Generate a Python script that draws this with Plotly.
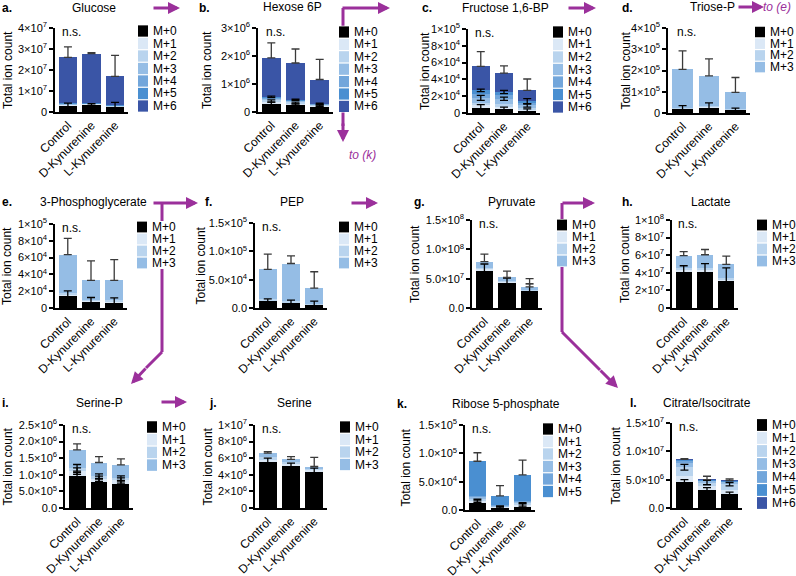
import numpy as np
import plotly.graph_objects as go

W, H = 796, 576
FONT = "Liberation Sans, Arial, Helvetica, sans-serif"
PURPLE = "#9b309b"

groups = ["Control", "D-Kynurenine", "L-Kynurenine"]
iso_names = ["M+0", "M+1", "M+2", "M+3", "M+4", "M+5", "M+6"]
iso_colors = ["#000000", "#dbe8f6", "#b9d4ee", "#95bde5", "#72a6db", "#4a8fd1", "#3a55a6"]

# ---------------- data (segment means per isotopologue, SD) ----------------
glucose_mean = [[3.3e6, 3.6e6, 2.6e6], [0.3e6, 0.3e6, 0.2e6], [0.15e6, 0.15e6, 0.1e6],
                [0.1e6, 0.1e6, 0.1e6], [0.1e6, 0.1e6, 0.1e6], [0.15e6, 0.15e6, 0.1e6],
                [2.19e7, 2.34e7, 1.38e7]]
glucose_sd = [[0.9e6, 0.4e6, 2.0e6], None, None, None, None, None, [5.0e6, 0.5e6, 1.0e7]]
glucose_tickvals = [0, 1e7, 2e7, 3e7, 4e7]
glucose_ticktext = ["0", "1×10<sup>7</sup>", "2×10<sup>7</sup>", "3×10<sup>7</sup>", "4×10<sup>7</sup>"]

hexose_mean = [[3.0e5, 2.4e5, 1.8e5], [0.9e5, 0.8e5, 0.5e5], [0.6e5, 0.5e5, 0.3e5],
               [0.4e5, 0.3e5, 0.2e5], [0.2e5, 0.2e5, 0.1e5], [0.3e5, 0.2e5, 0.1e5],
               [1.39e6, 1.31e6, 0.86e6]]
hexose_sd = [[0.5e5, 0.5e5, 0.4e5], [0.4e5, 0.3e5, 0.3e5], None, None, None, [0.3e5, 0.2e5, 0.2e5],
             [5.4e5, 5.0e5, 7.2e5]]
hexose_tickvals = [0, 1e6, 2e6, 3e6]
hexose_ticktext = ["0", "1×10<sup>6</sup>", "2×10<sup>6</sup>", "3×10<sup>6</sup>"]

fbp_mean = [[7e3, 5e3, 3e3], [2e3, 2e3, 1e3], [3e3, 4e3, 2e3], [6e3, 6e3, 3e3],
            [5e3, 5e3, 3e3], [4e3, 3e3, 2e3], [2.85e4, 2.25e4, 1.3e4]]
fbp_sd = [[3e3, 2e3, 2e3], None, None, [3e3, 2e3, 2e3], None, [1.5e3, 2e3, 3e3],
          [1.75e4, 8.5e3, 1.35e4]]
fbp_tickvals = [0, 2e4, 4e4, 6e4, 8e4, 1e5]
fbp_ticktext = ["0", "2×10<sup>4</sup>", "4×10<sup>4</sup>", "6×10<sup>4</sup>", "8×10<sup>4</sup>", "1×10<sup>5</sup>"]

triose_mean = [[2.2e4, 2.8e4, 1.5e4], [1e3, 1e3, 1e3], [2e3, 2e3, 1e3], [1.8e5, 1.44e5, 0.8e5]]
triose_sd = [[1.3e4, 2.0e4, 0.8e4], None, None, [8.7e4, 8.0e4, 7.0e4]]
triose_tickvals = [0, 1e5, 2e5, 3e5, 4e5]
triose_ticktext = ["0", "1×10<sup>5</sup>", "2×10<sup>5</sup>", "3×10<sup>5</sup>", "4×10<sup>5</sup>"]

pg_mean = [[1.45e4, 7.5e3, 7e3], [1e3, 1e3, 1e3], [2e3, 1.5e3, 1.5e3], [4.6e4, 2.3e4, 2.35e4]]
pg_sd = [[6e3, 5e3, 5e3], None, None, [1.95e4, 2.3e4, 2.45e4]]
pg_tickvals = [0, 2e4, 4e4, 6e4, 8e4, 1e5]
pg_ticktext = ["0", "2×10<sup>4</sup>", "4×10<sup>4</sup>", "6×10<sup>4</sup>", "8×10<sup>4</sup>", "1×10<sup>5</sup>"]

pep_mean = [[1.3e4, 9e3, 6e3], [1e3, 1e3, 5e2], [2e3, 2e3, 1e3], [5.2e4, 6.65e4, 2.75e4]]
pep_sd = [[3e3, 5e3, 6e3], None, None, [2.7e4, 1.35e4, 2.9e4]]
pep_tickvals = [0, 5e4, 1e5, 1.5e5]
pep_ticktext = ["0.0", "5.0×10<sup>4</sup>", "1.0×10<sup>5</sup>", "1.5×10<sup>5</sup>"]

pyr_mean = [[6.4e7, 4.3e7, 2.9e7], [3e6, 2e6, 1.5e6], [2e6, 1.5e6, 1e6], [1.0e7, 0.55e7, 0.45e7]]
pyr_sd = [[1.1e7, 0.8e7, 1.2e7], None, None, [1.3e7, 1.1e7, 1.4e7]]
pyr_tickvals = [0, 5e7, 1e8, 1.5e8]
pyr_ticktext = ["0.0", "5.0×10<sup>7</sup>", "1.0×10<sup>8</sup>", "1.5×10<sup>8</sup>"]

lac_mean = [[4.2e7, 4.15e7, 3.1e7], [2e6, 2e6, 1.5e6], [2e6, 2e6, 2e6], [1.35e7, 1.5e7, 1.5e7]]
lac_sd = [[6e6, 9e6, 1.45e7], None, None, [4.5e6, 6e6, 9.5e6]]
lac_tickvals = [0, 2e7, 4e7, 6e7, 8e7, 1e8]
lac_ticktext = ["0", "2×10<sup>7</sup>", "4×10<sup>7</sup>", "6×10<sup>7</sup>", "8×10<sup>7</sup>", "1×10<sup>8</sup>"]

serp_mean = [[9.7e5, 7.8e5, 7.3e5], [1.4e5, 1.0e5, 1.0e5], [1.0e5, 0.8e5, 0.7e5], [5.4e5, 4.1e5, 4.0e5]]
serp_sd = [[1.0e5, 0.9e5, 0.8e5], [1.0e5, 0.8e5, 0.8e5], [1.0e5, 0.7e5, 0.7e5], [1.8e5, 1.8e5, 1.8e5]]
serp_tickvals = [0, 5e5, 1e6, 1.5e6, 2e6, 2.5e6]
serp_ticktext = ["0.0", "5.0×10<sup>5</sup>", "1.0×10<sup>6</sup>", "1.5×10<sup>6</sup>", "2.0×10<sup>6</sup>", "2.5×10<sup>6</sup>"]

ser_mean = [[5.6e6, 5.1e6, 4.4e6], [3e5, 2.5e5, 2e5], [2e5, 1.5e5, 1.5e5], [5e5, 3.5e5, 2.5e5]]
ser_sd = [[4e5, 3e5, 4e5], None, None, [2e5, 3.5e5, 1.1e6]]
ser_tickvals = [0, 2e6, 4e6, 6e6, 8e6, 1e7]
ser_ticktext = ["0", "2×10<sup>6</sup>", "4×10<sup>6</sup>", "6×10<sup>6</sup>", "8×10<sup>6</sup>", "1×10<sup>7</sup>"]

r5p_mean = [[1.2e4, 5e3, 7e3], [4e3, 1e3, 3e3], [4e3, 1e3, 3e3], [3e3, 1e3, 2e3],
            [2e3, 1e3, 1e3], [6.1e4, 1.6e4, 4.6e4]]
r5p_sd = [[4e3, 2e3, 4e3], [3e3, 1e3, 3e3], None, None, None, [1.5e4, 1.8e4, 2.6e4]]
r5p_tickvals = [0, 5e4, 1e5, 1.5e5]
r5p_ticktext = ["0.0", "5.0×10<sup>4</sup>", "1.0×10<sup>5</sup>", "1.5×10<sup>5</sup>"]

cit_mean = [[4.6e6, 3.2e6, 2.5e6], [1.0e6, 0.6e6, 0.7e6], [1.6e6, 0.7e6, 1.0e6], [0.8e6, 0.3e6, 0.4e6],
            [0.4e6, 0.1e6, 0.15e6], [0.15e6, 0.05e6, 0.05e6], [0.05e6, 0.05e6, 0.05e6]]
cit_sd = [[4e5, 4e5, 3e5], None, [5e5, 4e5, 3e5], None, None, None, [1e5, 6e5, 3e5]]
cit_tickvals = [0, 5e6, 1e7, 1.5e7]
cit_ticktext = ["0.0", "5.0×10<sup>6</sup>", "1.0×10<sup>7</sup>", "1.5×10<sup>7</sup>"]

panels = [
    ("a", "Glucose", glucose_mean, glucose_sd, glucose_tickvals, glucose_ticktext),
    ("b", "Hexose 6P", hexose_mean, hexose_sd, hexose_tickvals, hexose_ticktext),
    ("c", "Fructose 1,6-BP", fbp_mean, fbp_sd, fbp_tickvals, fbp_ticktext),
    ("d", "Triose-P", triose_mean, triose_sd, triose_tickvals, triose_ticktext),
    ("e", "3-Phosphoglycerate", pg_mean, pg_sd, pg_tickvals, pg_ticktext),
    ("f", "PEP", pep_mean, pep_sd, pep_tickvals, pep_ticktext),
    ("g", "Pyruvate", pyr_mean, pyr_sd, pyr_tickvals, pyr_ticktext),
    ("h", "Lactate", lac_mean, lac_sd, lac_tickvals, lac_ticktext),
    ("i", "Serine-P", serp_mean, serp_sd, serp_tickvals, serp_ticktext),
    ("j", "Serine", ser_mean, ser_sd, ser_tickvals, ser_ticktext),
    ("k", "Ribose 5-phosphate", r5p_mean, r5p_sd, r5p_tickvals, r5p_ticktext),
    ("l", "Citrate/Isocitrate", cit_mean, cit_sd, cit_tickvals, cit_ticktext),
]

# ---------------- layout (pixel positions) ----------------
LAYOUT = {
    "a": dict(xd=(55, 128), yd=(28, 112), letter=(0, 8), title=(94, 8), ylab=8, leg=(138, 31, 12.5)),
    "b": dict(xd=(258, 333), yd=(28, 112), letter=(197, 8), title=(292, 7), ylab=207, leg=(339, 32, 12.4)),
    "c": dict(xd=(468, 540), yd=(29, 113), letter=(420, 8), title=(505, 8), ylab=425, leg=(553, 32, 12.5)),
    "d": dict(xd=(668, 750), yd=(28, 113), letter=(620, 8), title=(712, 7), ylab=625, leg=(755, 32, 11.7)),
    "e": dict(xd=(55, 127), yd=(224, 308), letter=(0, 202), title=(93, 202), ylab=7, leg=(137, 227, 12)),
    "f": dict(xd=(255, 327), yd=(223, 308), letter=(203, 202), title=(292, 202), ylab=200, leg=(339, 227, 12)),
    "g": dict(xd=(472, 542), yd=(220, 308), letter=(412, 202), title=(512, 202), ylab=415, leg=(557, 225, 12)),
    "h": dict(xd=(672, 738), yd=(220, 308), letter=(620, 202), title=(711, 202), ylab=625, leg=(757, 225, 12)),
    "i": dict(xd=(65, 133), yd=(425, 508), letter=(0, 403), title=(100, 403), ylab=7, leg=(147, 427, 12.7)),
    "j": dict(xd=(255, 327), yd=(425, 508), letter=(207, 403), title=(294, 403), ylab=207, leg=(340, 427, 12.5)),
    "k": dict(xd=(465, 535), yd=(425, 510), letter=(395, 404), title=(506, 404), ylab=405, leg=(543, 429, 12.5)),
    "l": dict(xd=(672, 742), yd=(423, 508), letter=(628, 403), title=(707, 403), ylab=615, leg=(757, 425, 13)),
}


def px(x):
    return x / W


def py(y):
    return 1 - y / H


fig = go.Figure()
annotations = []
shapes = []
layout_axes = {}

for idx, (key, title, means, sds, tickvals, ticktext) in enumerate(panels):
    n = idx + 1
    xa = "x" if n == 1 else f"x{n}"
    ya = "y" if n == 1 else f"y{n}"
    L = LAYOUT[key]
    nseg = len(means)
    for k in range(nseg):
        fig.add_trace(go.Bar(x=groups, y=means[k], marker=dict(color=iso_colors[k], line=dict(width=0)),
                             xaxis=xa, yaxis=ya, showlegend=False, hoverinfo="skip"))
    cum = np.cumsum(np.array(means), axis=0)
    for k in range(nseg):
        if sds[k] is None:
            continue
        top = (k == nseg - 1)
        fig.add_trace(go.Scatter(
            x=groups, y=cum[k], mode="markers", marker=dict(size=1, opacity=0),
            error_y=dict(type="data", array=sds[k], arrayminus=[0, 0, 0] if top else sds[k],
                         symmetric=False, color="#3a3a3a" if top else "black", thickness=1.3, width=4),
            xaxis=xa, yaxis=ya, showlegend=False, hoverinfo="skip"))

    xkey = "xaxis" if n == 1 else f"xaxis{n}"
    ykey = "yaxis" if n == 1 else f"yaxis{n}"
    layout_axes[xkey] = dict(domain=[px(L["xd"][0]), px(L["xd"][1])], anchor=ya, range=[-0.55, 2.55],
                             showline=True, linecolor="black", linewidth=1.5, ticks="", tickangle=-45,
                             tickfont=dict(size=12, color="black", family=FONT), showgrid=False,
                             zeroline=False, automargin=False, fixedrange=True)
    layout_axes[ykey] = dict(domain=[py(L["yd"][1]), py(L["yd"][0])], anchor=xa, range=[0, tickvals[-1]],
                             tickvals=tickvals, ticktext=ticktext, showline=True, linecolor="black",
                             linewidth=1.5, ticks="outside", ticklen=4, tickwidth=1.5, tickcolor="black",
                             tickfont=dict(size=11, color="black", family=FONT), showgrid=False,
                             zeroline=False, automargin=False, fixedrange=True)

    # panel letter, title, y label, n.s.
    annotations.append(dict(text=f"<b>{key}.</b>", x=px(L["letter"][0]), y=py(L["letter"][1]),
                            xref="paper", yref="paper", xanchor="left", yanchor="middle", showarrow=False,
                            font=dict(size=12, color="black", family=FONT)))
    annotations.append(dict(text=title, x=px(L["title"][0]), y=py(L["title"][1]), xref="paper", yref="paper",
                            xanchor="center", yanchor="middle", showarrow=False,
                            font=dict(size=12, color="black", family=FONT)))
    ymid = (L["yd"][0] + L["yd"][1]) / 2
    annotations.append(dict(text="Total ion count", x=px(L["ylab"]), y=py(ymid), xref="paper", yref="paper",
                            xanchor="center", yanchor="middle", textangle=-90, showarrow=False,
                            font=dict(size=12, color="black", family=FONT)))
    annotations.append(dict(text="n.s.", x=groups[0], y=0.95 * tickvals[-1], xref=xa, yref=ya, xshift=4,
                            xanchor="center", yanchor="middle", showarrow=False,
                            font=dict(size=12, color="black", family=FONT)))

    # legend (white box behind swatches and labels, as in the original layout)
    lx, ly, step = L["leg"]
    shapes.append(dict(type="rect", xref="paper", yref="paper", x0=px(lx - 1), x1=px(lx + 40),
                       y0=py(ly + (nseg - 0.5) * step), y1=py(ly - step / 2),
                       fillcolor="white", line=dict(width=0), layer="above"))
    for k in range(nseg):
        cy = ly + k * step
        shapes.append(dict(type="rect", xref="paper", yref="paper", x0=px(lx), x1=px(lx + 10),
                           y0=py(cy + step / 2 - 0.6), y1=py(cy - step / 2 + 0.6),
                           fillcolor=iso_colors[k], line=dict(width=0), layer="above"))
        annotations.append(dict(text=iso_names[k], x=px(lx + 13), y=py(cy), xref="paper", yref="paper",
                                xanchor="left", yanchor="middle", showarrow=False,
                                font=dict(size=12, color="black", family=FONT)))

# ---------------- pathway arrows ----------------
line_segments = [
    ((343, 8), (343, 126)),
    ((162, 203), (162, 352)),
    ((162, 352), (146, 368)),
    ((562, 203), (562, 332)),
    ((562, 332), (600, 370)),
]
arrow_segments = [
    ((152, 8), (180, 8)),
    ((341, 8), (390, 8)),
    ((343, 122), (343, 142)),
    ((567, 8), (596, 8)),
    ((737, 7), (764, 7)),
    ((152, 203), (198, 203)),
    ((147, 367), (131, 384)),
    ((350, 203), (378, 203)),
    ((561, 203), (595, 203)),
    ((599, 369), (618, 388)),
    ((160, 402), (187, 402)),
]
seg_shapes = []
for (x0, y0), (x1, y1) in line_segments:
    seg_shapes.append(dict(type="line", xref="paper", yref="paper", x0=px(x0), y0=py(y0), x1=px(x1), y1=py(y1),
                           line=dict(color=PURPLE, width=3), layer="above"))
for (x0, y0), (x1, y1) in arrow_segments:
    annotations.append(dict(text="", x=px(x1), y=py(y1), xref="paper", yref="paper", ax=x0 - x1, ay=y0 - y1,
                            axref="pixel", ayref="pixel", showarrow=True, arrowhead=2, arrowsize=0.8,
                            arrowwidth=3, arrowcolor=PURPLE, standoff=0, startstandoff=0))
annotations.append(dict(text="<i>to (k)</i>", x=px(362), y=py(155), xref="paper", yref="paper",
                        xanchor="center", yanchor="middle", showarrow=False,
                        font=dict(size=12, color=PURPLE, family=FONT)))
annotations.append(dict(text="<i>to (e)</i>", x=px(777), y=py(7), xref="paper", yref="paper",
                        xanchor="center", yanchor="middle", showarrow=False,
                        font=dict(size=12, color=PURPLE, family=FONT)))

fig.update_layout(
    width=W, height=H, margin=dict(l=0, r=0, t=0, b=0),
    paper_bgcolor="white", plot_bgcolor="white",
    barmode="stack", bargap=0.23, showlegend=False,
    font=dict(family=FONT, color="black"),
    shapes=seg_shapes + shapes,
    annotations=annotations,
    **layout_axes,
)

fig.write_html("out.html", config={"displayModeBar": False},
               post_script="document.body.style.margin='0';document.body.style.overflow='hidden';")
